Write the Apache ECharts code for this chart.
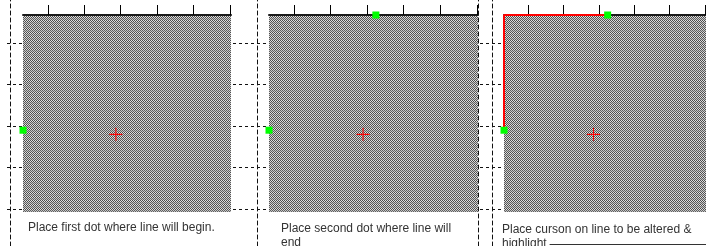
<!DOCTYPE html>
<html>
<head>
<meta charset="utf-8">
<script src="https://cdn.jsdelivr.net/npm/echarts@6/dist/echarts.min.js"></script>
<style>html,body{margin:0;padding:0;background:#fff;}#c{width:706px;height:246px;}</style>
</head>
<body>
<div id="c"></div>
<script>
// ---- data ----
const xTicks = [1, 2, 3, 4, 5, 6];
const yTicks = [1, 2, 3, 4, 5];
const xRange = [0.32, 6.03];
const yRange = [0.325, 5.07];
const startDots = [[0.32, 3.1], [0.32, 3.1], [0.32, 3.1]];
const endDots = [null, [3.24, 0.325], [3.25, 0.325]];
const cursors = [[2.87, 3.2], [2.89, 3.2], [2.85, 3.2]];
const drawnLine = [[0.32, 3.1], [0.32, 0.325], [3.25, 0.325]];
const captions = [
  'Place first dot where line will begin.',
  'Place second dot where line will\nend',
  'Place curson on line to be altered &\nhighlight'
];

// ---- layout ----
const panels = [
  {left: 23, width: 208, tickOff: 16, capLeft: 28, capTop: 221},
  {left: 269, width: 209, tickOff: 36, capLeft: 281, capTop: 222},
  {left: 504, width: 210, tickOff: 24, capLeft: 502, capTop: 223}
];
const dashLinesX = [10, 257, 478, 492];

// dithered fill pattern
const pc = document.createElement('canvas');
pc.width = 4; pc.height = 4;
const pctx = pc.getContext('2d');
for (let y = 0; y < 4; y++) for (let x = 0; x < 4; x++) {
  const dark = (x + y) % 2 === 0;
  pctx.fillStyle = dark ? (y < 2 ? '#4a4a4a' : '#606060') : (y < 2 ? '#e0e0e0' : '#c4c4c4');
  pctx.fillRect(x, y, 1, 1);
}
const pattern = {image: pc, repeat: 'repeat'};

const grid = [], xAxis = [], yAxis = [], series = [], title = [];

panels.forEach((p, i) => {
  grid.push({left: p.left, top: 15, width: p.width, height: 197, show: true,
    backgroundColor: pattern, borderWidth: 0});
  xAxis.push({type: 'value', gridIndex: i, position: 'top', min: xRange[0], max: xRange[1],
    axisLine: {show: true, lineStyle: {color: '#1a1a1a', width: 2}},
    axisTick: {show: true, customValues: xTicks, length: 10, lineStyle: {color: '#000', width: 1}},
    axisLabel: {show: false}, splitLine: {show: false}});
  yAxis.push({type: 'value', gridIndex: i, inverse: true, min: yRange[0], max: yRange[1],
    offset: p.tickOff,
    axisLine: {show: false},
    axisTick: {show: true, inside: true, customValues: yTicks, length: p.tickOff,
      lineStyle: {color: '#111', width: 1, type: [3, 3]}},
    axisLabel: {show: false}, splitLine: {show: false}});
  if (i === 2) {
    series.push({type: 'line', xAxisIndex: i, yAxisIndex: i, data: drawnLine, symbol: 'none',
      clip: false, lineStyle: {color: '#ff0000', width: 2}, z: 3});
  }
  series.push({type: 'scatter', xAxisIndex: i, yAxisIndex: i, data: [cursors[i]], clip: false,
    symbol: 'path://M0,4.6H10V5.4H0Z M4.6,0H5.4V10H4.6Z', symbolSize: 13,
    itemStyle: {color: '#ff0000', opacity: 1}, z: 4});
  const dots = [startDots[i]];
  if (endDots[i]) dots.push(endDots[i]);
  series.push({type: 'scatter', xAxisIndex: i, yAxisIndex: i, data: dots, clip: false,
    symbol: 'rect', symbolSize: 7, itemStyle: {color: '#00ff00', opacity: 1}, z: 5});
  title.push({text: captions[i], left: p.capLeft, top: p.capTop, padding: 0,
    textStyle: {fontSize: 12, fontFamily: 'Liberation Sans, Arial', fontWeight: 'normal',
      color: '#333', lineHeight: 14}});
});

// full-height dashed guide lines
dashLinesX.forEach((x) => {
  const gi = grid.length;
  grid.push({left: x, top: 0, width: 1, bottom: 0, show: false});
  xAxis.push({type: 'value', gridIndex: gi, show: false});
  yAxis.push({type: 'value', gridIndex: gi, position: 'left',
    axisLine: {show: true, lineStyle: {color: '#111', width: 1, type: [4, 3]}},
    axisTick: {show: false}, axisLabel: {show: false}, splitLine: {show: false}});
});

// bottom rule under third caption
{
  const gi = grid.length;
  grid.push({left: 550, right: 0, top: 243, height: 1, show: false});
  xAxis.push({type: 'value', gridIndex: gi, position: 'top',
    axisLine: {show: true, lineStyle: {color: '#333', width: 1}},
    axisTick: {show: false}, axisLabel: {show: false}, splitLine: {show: false}});
  yAxis.push({type: 'value', gridIndex: gi, show: false});
}

const chart = echarts.init(document.getElementById('c'), null, {renderer: 'canvas'});
chart.setOption({animation: false, backgroundColor: '#fff', title, grid, xAxis, yAxis, series});
</script>
</body>
</html>
